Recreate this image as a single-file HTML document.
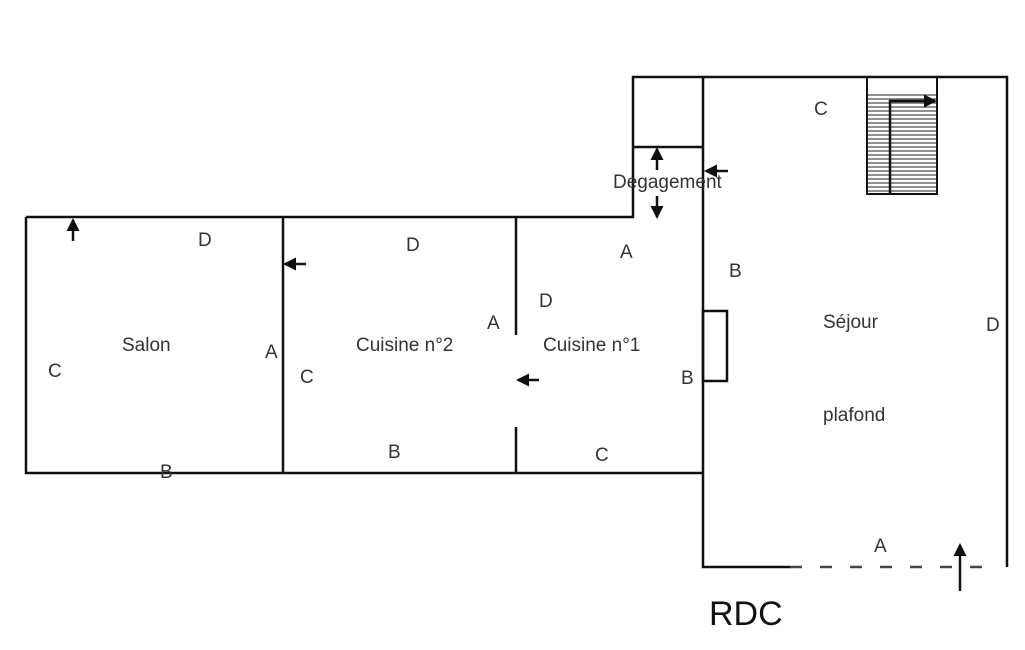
<!DOCTYPE html>
<html><head><meta charset="utf-8"><style>
html,body{margin:0;padding:0;background:#fff;}
svg{display:block;font-family:"Liberation Sans",sans-serif;}
text{fill:#333;font-size:19px;}
</style></head><body>
<svg width="1025" height="650" viewBox="0 0 1025 650">
<defs><marker id="ah" markerWidth="13" markerHeight="13" refX="11" refY="6.5" orient="auto" markerUnits="userSpaceOnUse"><path d="M0,0 L13,6.5 L0,13 z" fill="#111"/></marker></defs>
<g stroke="#111" stroke-width="2.5" fill="none">
<path d="M26,217 H633 V77 H1007 V567"/>
<path d="M26,217 V473 H703"/>
<path d="M703,77 V567 H790"/>
<path d="M790,567 H1000" stroke-dasharray="12,18" stroke="#444"/>
<path d="M633,147 H703"/>
<path d="M283,217 V473"/>
<path d="M516,217 V335 M516,427 V473"/>
<rect x="703" y="311" width="24" height="70"/>
<rect x="867" y="77" width="70" height="117" stroke-width="2"/>
</g>
<g stroke="#222" stroke-width="1">
<path d="M867,95H937M867,99H937M867,103H937M867,107H937M867,111H937M867,115H937M867,119H937M867,123H937M867,127H937M867,131H937M867,135H937M867,139H937M867,143H937M867,147H937M867,151H937M867,155H937M867,159H937M867,163H937M867,167H937M867,171H937M867,175H937M867,179H937M867,183H937M867,187H937M867,191H937"/>
</g>
<g stroke="#111" stroke-width="2.5" fill="none">
<path d="M890,194 V101 H935" marker-end="url(#ah)"/>
<path d="M73,241 V220" marker-end="url(#ah)"/>
<path d="M306,264 H285" marker-end="url(#ah)"/>
<path d="M539,380 H518" marker-end="url(#ah)"/>
<path d="M728,171 H706" marker-end="url(#ah)"/>
<path d="M657,170 V149" marker-end="url(#ah)"/>
<path d="M657,196 V217" marker-end="url(#ah)"/>
<path d="M960,591 V545" marker-end="url(#ah)"/>
</g>
<text x="122" y="351">Salon</text>
<text x="356" y="351">Cuisine n°2</text>
<text x="543" y="351">Cuisine n°1</text>
<text x="823" y="328">Séjour</text>
<text x="823" y="421">plafond</text>
<text x="613" y="188">Degagement</text>
<text x="198" y="246">D</text><text x="48" y="377">C</text><text x="265" y="358">A</text><text x="160" y="478">B</text>
<text x="406" y="251">D</text><text x="300" y="383">C</text><text x="487" y="329">A</text><text x="388" y="458">B</text>
<text x="539" y="307">D</text><text x="620" y="258">A</text><text x="595" y="461">C</text><text x="681" y="384">B</text>
<text x="814" y="115">C</text><text x="729" y="277">B</text><text x="986" y="331">D</text><text x="874" y="552">A</text>
<text x="709" y="625" style="font-size:34px;fill:#111">RDC</text>
</svg>
</body></html>
